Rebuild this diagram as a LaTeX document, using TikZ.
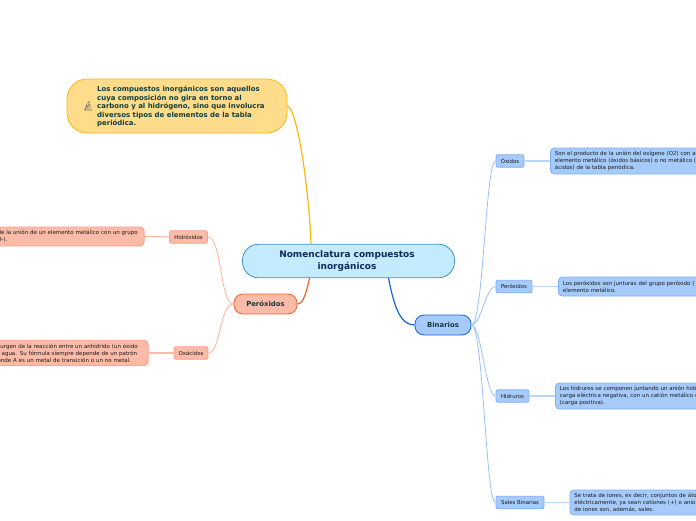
\documentclass[tikz,border=0pt]{standalone}
\usepackage{fontspec}
\setmainfont{DejaVu Sans}
\newfontfamily\emojifont{Noto Emoji}
\usetikzlibrary{arrows.meta, positioning}
\definecolor{ink}{HTML}{0F3D3E}
\definecolor{navy}{HTML}{0E2B5A}
\definecolor{mainfill}{HTML}{C4EAFD}
\definecolor{mainline}{HTML}{3F92CC}
\definecolor{notefill}{HTML}{FFDC8B}
\definecolor{noteline}{HTML}{FBB812}
\definecolor{redfill}{HTML}{FBBBA8}
\definecolor{redline}{HTML}{F2622F}
\definecolor{redsoft}{HTML}{FC9F85}
\definecolor{bluefill}{HTML}{A6CBFB}
\definecolor{blueline}{HTML}{1464D8}
\definecolor{bluesoft}{HTML}{7FB0F5}

\begin{document}
\begin{tikzpicture}[x=1pt, y=-1pt,
    central/.style={rectangle, rounded corners=16pt, draw=mainline, fill=mainfill, line width=0.8pt,
      minimum width=212pt, minimum height=33.5pt, inner sep=0pt, align=center, text=navy,
      font=\fontsize{9}{11.2}\selectfont\bfseries},
    note/.style={rectangle, rounded corners=20pt, draw=noteline, fill=notefill, line width=0.8pt,
      minimum width=220pt, minimum height=54pt, inner sep=0pt, text=ink},
    topic/.style={rectangle, rounded corners=9pt, line width=0.8pt, minimum height=20pt, inner sep=0pt,
      text=ink, font=\fontsize{6.9}{8}\selectfont\bfseries},
    leafred/.style={rectangle, rounded corners=2pt, draw=redsoft, fill=redfill, line width=0.9pt,
      minimum height=12.5pt, inner sep=0pt, text=black!90, font=\fontsize{5.4}{7}\selectfont},
    leafblue/.style={leafred, draw=bluesoft, fill=bluefill},
    textred/.style={rectangle, rounded corners=4pt, draw=redsoft, fill=redfill, line width=0.9pt,
      anchor=east, inner xsep=4.5pt, inner ysep=0pt, align=left, text=black!90,
      font=\fontsize{5.5}{7}\selectfont},
    textblue/.style={textred, anchor=west, draw=bluesoft, fill=bluefill, text width=220pt},
    mainlink/.style={line width=1.2pt},
    redlink/.style={redsoft!80, line width=0.8pt},
    bluelink/.style={bluesoft!80, line width=0.8pt},
    redbar/.style={redfill, line width=1.2pt},
    bluebar/.style={bluefill!80, line width=1.2pt}]

  \useasboundingbox (0,0) rectangle (696,520);

  % central topic
  \node[central] (nom) at (348.5,261) {Nomenclatura compuestos\hspace*{3pt}\\inorgánicos\hspace*{3pt}};

  % yellow note
  \node[note] (intro) at (177,106) {};
  \node[anchor=west, inner sep=0pt, align=left, text=ink, font=\fontsize{6.95}{8.5}\selectfont\bfseries]
    (introtext) at (97,106.5) {Los compuestos inorgánicos son aquellos\\
      cuya composición no gira en torno al\\
      carbono y al hidrógeno, sino que involucra\\
      diversos tipos de elementos de la tabla\\
      periódica.};
  \node[inner sep=0pt, text=black!65, font=\emojifont\fontsize{9}{9}\selectfont] (micro) at (88,106) {🔬};

  % first level
  \node[topic, draw=redline, fill=redfill, minimum width=63pt] (perox) at (265.5,304) {Peróxidos};
  \node[topic, draw=blueline, fill=bluefill, minimum width=56pt] (bin) at (443,325) {Binarios};

  % left side
  \node[leafred, minimum width=38pt] (hidrox) at (188.5,237) {Hidróxidos};
  \node[leafred, minimum width=34pt] (oxac) at (191,353) {Oxácidos};
  \node[textred, text width=142pt, minimum height=19pt] (hidroxtext) at (144.5,236.5) {%
    de la unión de un elemento metálico con un grupo\\
    H-).};
  \node[textred, text width=146pt, minimum height=25.5pt] (oxactext) at (148.5,353) {%
    surgen de la reacción entre un anhídrido (un óxido\\
    r agua. Su fórmula siempre depende de un patrón\\
    onde A es un metal de transición o un no metal.};

  % right side
  \node[leafblue, minimum width=28pt] (oxi) at (510,161) {Óxidos};
  \node[leafblue, minimum width=36pt] (per) at (514,286.5) {Peróxidos};
  \node[leafblue, minimum width=33pt] (hid) at (512.5,396) {Hidruros};
  \node[leafblue, minimum width=48pt] (sal) at (520,502.5) {Sales Binarias};
  \node[textblue, minimum height=26pt] (oxitext) at (550,161) {%
    Son el producto de la unión del oxígeno (O2) con a\\
    elemento metálico (óxidos básicos) o no metálico (\\
    ácidos) de la tabla periódica.};
  \node[textblue, minimum height=19pt] (pertext) at (558,286.5) {%
    Los peróxidos son junturas del grupo peróxido (\\
    elemento metálico.};
  \node[textblue, minimum height=26pt] (hidtext) at (555,396) {%
    Los hidruros se componen juntando un anión hidr\\
    carga eléctrica negativa, con un catión metálico c\\
    (carga positiva).};
  \node[textblue, minimum height=25pt] (saltext) at (569.5,502.5) {%
    Se trata de iones, es decir, conjuntos de áto\\
    eléctricamente, ya sean cationes (+) o anio\\
    de iones son, además, sales.};

  % connectors from the centre
  \draw[mainlink, noteline] ([xshift=-37.5pt]nom.north) .. controls +(-2,-55) and +(10,3) .. (intro.east);
  \draw[mainlink, redline] ([xshift=-39pt]nom.south) .. controls +(-3,14) and +(6,0) .. (perox.east);
  \draw[mainlink, blueline] ([xshift=40pt]nom.south) .. controls +(6,30) and +(-14,0) .. (bin.west);

  % branches
  \draw[redlink] (perox.west) .. controls +(-14,0) and +(14,0) .. (hidrox.east);
  \draw[redlink] (perox.west) .. controls +(-14,0) and +(12,0) .. (oxac.east);
  \draw[bluelink] (bin.east) .. controls +(12,0) and +(-10,0) .. (oxi.west);
  \draw[bluelink] (bin.east) .. controls +(10,0) and +(-10,0) .. (per.west);
  \draw[bluelink] (bin.east) .. controls +(10,0) and +(-10,0) .. (hid.west);
  \draw[bluelink] (bin.east) .. controls +(12,0) and +(-10,0) .. (sal.west);

  % leaf to text
  \draw[redbar] (hidrox.west) -- (hidroxtext.east);
  \draw[redbar] (oxac.west) -- (oxactext.east);
  \draw[bluebar] (oxi.east) -- (oxitext.west);
  \draw[bluebar] (per.east) -- (pertext.west);
  \draw[bluebar] (hid.east) -- (hidtext.west);
  \draw[bluebar] (sal.east) -- (saltext.west);

\end{tikzpicture}
\end{document}
